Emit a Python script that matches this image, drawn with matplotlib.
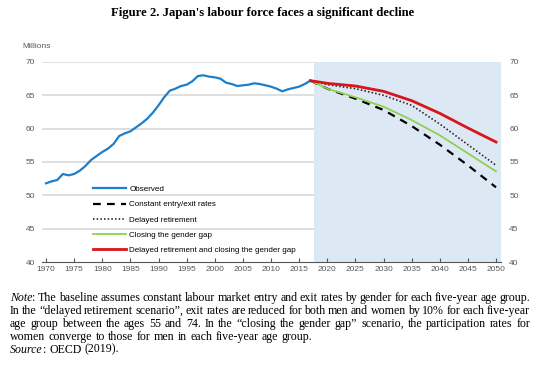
import matplotlib.pyplot as plt

# Observed labour force (millions), 1970-2017
obs_anos = list(range(1970, 2018))
obs_valores = [51.8, 52.1, 52.3, 53.2, 53.0, 53.2, 53.7, 54.4, 55.3, 55.9,
               56.5, 57.0, 57.7, 58.9, 59.3, 59.6, 60.2, 60.8, 61.5, 62.4,
               63.5, 64.7, 65.7, 66.0, 66.4, 66.6, 67.1, 67.9, 68.0, 67.8,
               67.7, 67.5, 66.9, 66.7, 66.4, 66.5, 66.6, 66.8, 66.7, 66.5,
               66.3, 66.0, 65.6, 65.9, 66.1, 66.3, 66.7, 67.2]

# Scenario projections
proj_anos = [2017, 2020, 2025, 2030, 2035, 2040, 2045, 2050]
constante = [67.2, 66.0, 64.5, 62.8, 60.4, 57.6, 54.5, 51.2]
aposentadoria = [67.2, 66.6, 66.0, 65.0, 63.5, 60.7, 57.6, 54.5]
genero = [67.2, 66.0, 64.7, 63.3, 61.3, 59.0, 56.3, 53.6]
ambos = [67.2, 66.8, 66.4, 65.6, 64.2, 62.3, 60.1, 58.0]

xticks = list(range(1970, 2051, 5))
yticks = [40, 45, 50, 55, 60, 65, 70]

titulo = "Figure 2. Japan's labour force faces a significant decline"
nota = [
    ("*Note*: The baseline assumes constant labour market entry and exit rates by gender for each five-year age group.", True),
    ("In the \u201cdelayed retirement scenario\u201d, exit rates are reduced for both men and women by 10% for each five-year", True),
    ("age group between the ages 55 and 74. In the \u201cclosing the gender gap\u201d scenario, the participation rates for", True),
    ("women converge to those for men in each five-year age group.", False),
    ("*Source*: OECD (2019).", False),
]

cinza = '#595959'
sans = 'Liberation Sans'
serif = 'Liberation Serif'

fig = plt.figure(figsize=(5.4, 3.71), dpi=100)
ax = fig.add_axes([0.0769, 0.2938, 0.85, 0.5391])

ax.set_xlim(1969.2, 2050.8)
ax.set_ylim(40, 70)

for y in yticks[1:]:
    ax.axhline(y, color='#d6d6d6', lw=1.1, zorder=0.5)
ax.axvspan(2017.7, 2051, color='#dde8f5', lw=0, zorder=1)

ax.plot(obs_anos, obs_valores, color='#1c7fcc', lw=1.6, label='Observed', zorder=3)
ax.plot(proj_anos, constante, color='black', lw=1.6, dashes=(3.5, 2.8),
        label='Constant entry/exit rates', zorder=3)
ax.plot(proj_anos, aposentadoria, color='#222222', lw=1.2, dashes=(0.9, 1.3),
        label='Delayed retirement', zorder=3)
ax.plot(proj_anos, genero, color='#8fd14f', lw=1.3, label='Closing the gender gap', zorder=3)
ax.plot(proj_anos, ambos, color='#d9141b', lw=2.0,
        label='Delayed retirement and closing the gender gap', zorder=4)

for lado in ['left', 'right', 'top']:
    ax.spines[lado].set_visible(False)
ax.spines['bottom'].set_color('#555555')
ax.spines['bottom'].set_linewidth(0.8)

ax.set_xticks(xticks)
ax.set_yticks(yticks)
ax.tick_params(axis='x', direction='in', length=3, width=0.8, color='#555555',
               labelsize=6, labelcolor=cinza, pad=3)
ax.tick_params(axis='y', length=0, labelsize=6, labelcolor=cinza, pad=4.5)
for lbl in ax.get_xticklabels() + ax.get_yticklabels():
    lbl.set_fontfamily(sans)

ax2 = ax.twinx()
ax2.set_ylim(40, 70)
ax2.set_yticks(yticks)
for lado in ['left', 'right', 'top', 'bottom']:
    ax2.spines[lado].set_visible(False)
ax2.tick_params(axis='y', length=0, labelsize=6, labelcolor=cinza, pad=6.3)
for lbl in ax2.get_yticklabels():
    lbl.set_fontfamily(sans)

ax.legend(loc='upper left', bbox_to_anchor=(93 / 540, 1 - 185.5 / 371),
          bbox_transform=fig.transFigure, frameon=False, borderpad=0,
          borderaxespad=0, handlelength=4.1, handletextpad=0.4,
          labelspacing=0.95, prop={'family': sans, 'size': 5.8})

fig.text(22 / 540, 1 - 47 / 371, 'Millions', fontsize=6, color=cinza,
         family=sans, va='center', ha='left')
fig.text(263 / 540, 1 - 13 / 371, titulo, fontsize=9.2, fontweight='bold',
         family=serif, ha='center', va='center')

# Nota com texto justificado, palavra por palavra
renderer = fig.canvas.get_renderer()
W = fig.bbox.width
x_ini, x_fim = 10, 530
y_nota = 301
passo = 12.9
tam = 8.6


def segmentos(palavra):
    partes = palavra.split('*')
    return [(p, i % 2 == 1) for i, p in enumerate(partes) if p]


def largura(txt, it=False):
    t = fig.text(0, 0, txt, fontsize=tam, family=serif,
                 style='italic' if it else 'normal')
    w = t.get_window_extent(renderer).width
    t.remove()
    return w


def avanco(txt, it=False):
    return largura(txt + '|', it) - largura('|', it)


espaco_nat = largura('a a') - 2 * largura('a')

for n, (linha, justificar) in enumerate(nota):
    y = 1 - (y_nota + n * passo) / 371
    palavras = linha.split(' ')
    objetos = []
    larguras = []
    for p in palavras:
        segs = []
        larg = 0
        for txt, it in segmentos(p):
            t = fig.text(0, y, txt, fontsize=tam, family=serif,
                         style='italic' if it else 'normal', va='baseline')
            segs.append((t, larg))
            larg += avanco(txt, it)
        objetos.append(segs)
        larguras.append(larg)
    if justificar:
        gap = (x_fim - x_ini - sum(larguras)) / (len(palavras) - 1)
    else:
        gap = espaco_nat * 1.1
    x = x_ini
    for segs, larg in zip(objetos, larguras):
        for t, dx in segs:
            t.set_x((x + dx) / W)
        x += larg + gap

fig.savefig('out.png', dpi=100)
